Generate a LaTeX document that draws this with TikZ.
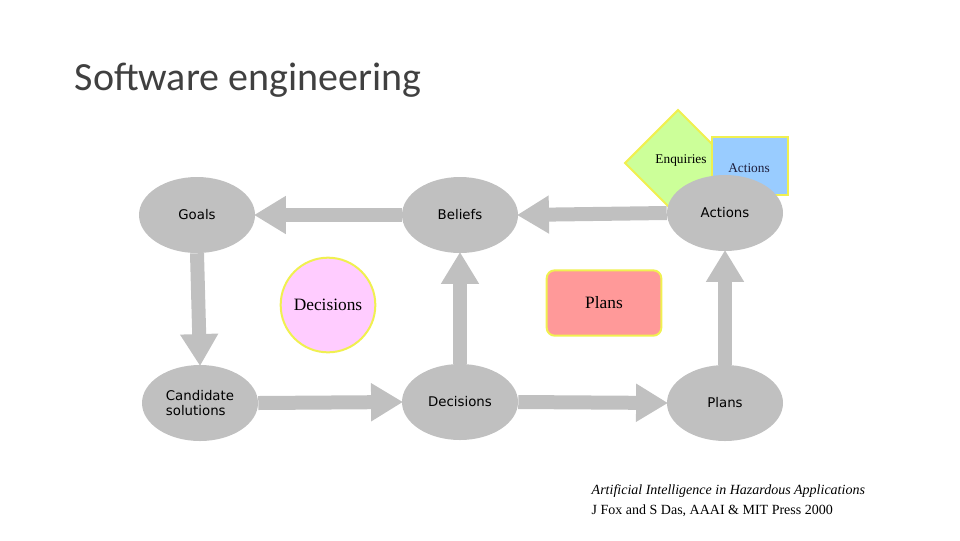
\documentclass[tikz,border=0pt]{standalone}
\usepackage{fontspec}
\setmainfont{Liberation Serif}
\newfontfamily\titlefont{Carlito}
\newfontfamily\nodefont{DejaVu Sans}
\usetikzlibrary{arrows.meta,shapes.geometric}
\definecolor{ovgray}{RGB}{192,192,192}
\definecolor{ylw}{RGB}{240,240,80}
\begin{document}
\begin{tikzpicture}[x=0.75pt,y=-0.75pt,
  oval/.style={ellipse,fill=ovgray,minimum width=116pt*0.75,minimum height=76pt*0.75,inner sep=0pt,font=\nodefont\fontsize{10}{11}\selectfont,align=left},
  flow/.style={draw=ovgray,line width=10.5pt,-{Triangle[width=27pt,length=24pt]},shorten >=-1pt}]
\useasboundingbox (0,0) rectangle (960,540);
\node[anchor=west,font=\titlefont\fontsize{30}{34}\selectfont,text=black!75] (title) at (70,80) {Software engineering};

% coloured overlays behind the Actions oval
\node[diamond,draw=ylw,line width=1.5pt,fill={rgb,255:red,204;green,255;blue,153},minimum width=80pt,minimum height=80pt,inner sep=0pt] (enq) at (678,163) {};
\node[font=\fontsize{10}{12}\selectfont] (enqt) at (681,160) {Enquiries};
\node[draw=ylw,line width=1.5pt,fill={rgb,255:red,153;green,204;blue,255},minimum width=57pt,minimum height=44pt,inner sep=0pt] (act) at (750,166) {};
\node[font=\fontsize{10}{12}\selectfont,text={rgb,255:red,30;green,30;blue,60}] (actt) at (749,168) {Actions};

\node[oval] (goals) at (197,215) {Goals};
\node[oval,minimum width=116pt*0.75] (beliefs) at (460,215) {Beliefs};
\node[oval] (actions) at (725,213) {Actions};
\node[oval] (cand) at (200,403) {Candidate\\solutions};
\node[oval] (dec) at (460,402) {Decisions};
\node[oval] (plans) at (725,403) {Plans};

\node[circle,draw=ylw,line width=1.5pt,fill={rgb,255:red,255;green,204;blue,255},minimum size=71pt,font=\fontsize{13}{15}\selectfont] (decc) at (328,305) {Decisions};
\node[rounded corners=6pt,draw=ylw,line width=1.5pt,fill={rgb,255:red,255;green,153;blue,153},minimum width=86pt,minimum height=49pt,font=\fontsize{13}{15}\selectfont] (planr) at (604,303) {Plans};

\draw[flow] (actions.west) -- (beliefs.east);
\draw[flow] (beliefs.west) -- (goals.east);
\draw[flow] (goals.south) -- (cand.north);
\draw[flow] (cand.east) -- (dec.west);
\draw[flow] (dec.north) -- (beliefs.south);
\draw[flow] (dec.east) -- (plans.west);
\draw[flow] (plans.north) -- (actions.south);

\node[anchor=north west,align=left,font=\fontsize{10.5}{15}\selectfont] (cite) at (587,480) {\textit{Artificial Intelligence in Hazardous Applications}\\J Fox and S Das, AAAI \& MIT Press 2000};
\end{tikzpicture}
\end{document}
